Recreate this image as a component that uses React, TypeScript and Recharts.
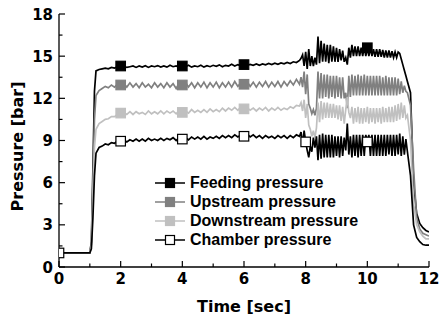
import React from 'react';
import { LineChart, Line, XAxis, YAxis, Legend } from 'recharts';

// time [sec]
const timeSec = [
  0, 0.5, 1.0, 1.05, 1.1, 1.15, 1.2, 1.3,
  1.4, 1.5, 1.6, 1.7, 1.8, 1.9, 2.0, 2.1, 2.2, 2.3,
  2.4, 2.5, 2.6, 2.7, 2.8, 2.9, 3.0, 3.1, 3.2, 3.3,
  3.4, 3.5, 3.6, 3.7, 3.8, 3.9, 4.0, 4.1, 4.2, 4.3,
  4.4, 4.5, 4.6, 4.7, 4.8, 4.9, 5.0, 5.1, 5.2, 5.3,
  5.4, 5.5, 5.6, 5.7, 5.8, 5.9, 6.0, 6.1, 6.2, 6.3,
  6.4, 6.5, 6.6, 6.7, 6.8, 6.9, 7.0, 7.1, 7.2, 7.3,
  7.4, 7.5, 7.6, 7.7, 7.8,
  7.85, 7.9, 7.95, 8.0, 8.05, 8.1, 8.15, 8.2, 8.25, 8.3,
  8.35, 8.4, 8.45, 8.5, 8.55, 8.6, 8.65, 8.7, 8.75, 8.8,
  8.85, 8.9, 8.95, 9.0, 9.05, 9.1, 9.15, 9.2, 9.25, 9.3,
  9.35, 9.4, 9.45, 9.5, 9.55, 9.6, 9.65, 9.7, 9.75, 9.8,
  9.85, 9.9, 9.95, 10.0, 10.05, 10.1, 10.15, 10.2, 10.25, 10.3,
  10.35, 10.4, 10.45, 10.5, 10.55, 10.6, 10.65, 10.7, 10.75, 10.8,
  10.85, 10.9, 10.95, 11.0, 11.05, 11.1, 11.15, 11.2, 11.25, 11.3,
  11.4, 11.5, 11.6, 11.7, 11.8, 11.9, 12.0,
];

const feedingPressure = [
  1.0, 1.0, 1.0, 1.8, 7.0, 12.5, 13.95, 14.05,
  14.1, 14.15, 14.1, 14.2, 14.15, 14.25, 14.3, 14.3, 14.2, 14.25,
  14.3, 14.2, 14.3, 14.22, 14.32, 14.2, 14.3, 14.25, 14.33, 14.22,
  14.3, 14.22, 14.35, 14.25, 14.3, 14.2, 14.3, 14.25, 14.35, 14.22,
  14.3, 14.25, 14.35, 14.22, 14.32, 14.25, 14.35, 14.28, 14.38, 14.25,
  14.35, 14.3, 14.42, 14.3, 14.4, 14.32, 14.4, 14.33, 14.42, 14.35,
  14.45, 14.35, 14.45, 14.38, 14.48, 14.4, 14.5, 14.42, 14.52, 14.45,
  14.55, 14.48, 14.6, 14.55, 14.7,
  14.85, 15.1, 14.3, 15.3, 14.1, 15.5, 14.3, 15.0, 14.3, 14.9,
  14.4, 16.4, 14.5, 16.1, 14.6, 15.9, 14.6, 15.8, 14.5, 15.8,
  14.6, 15.7, 14.6, 15.6, 14.6, 15.5, 14.7, 15.4, 14.6, 14.9,
  14.4, 15.6, 14.9, 15.8, 15.0, 15.7, 15.0, 15.7, 15.0, 15.6,
  15.0, 15.7, 15.0, 15.6, 15.0, 15.6, 15.0, 15.5, 14.95, 15.5,
  14.95, 15.5, 14.95, 15.45, 14.9, 15.4, 14.9, 15.4, 14.9, 15.35,
  14.9, 15.3, 14.9, 15.3, 15.2, 14.8, 14.4, 14.0, 13.6, 13.2,
  12.4, 6.0, 3.8, 3.1, 2.8, 2.6, 2.5,
];

const upstreamPressure = [
  1.0, 1.0, 1.0, 1.6, 6.0, 10.5, 12.2, 12.55,
  12.7, 12.85, 12.75, 12.95, 12.8, 13.0, 12.95, 13.05, 12.8, 13.1,
  12.8, 13.05, 12.75, 13.1, 12.8, 13.0, 12.75, 13.1, 12.8, 13.05,
  12.75, 13.1, 12.8, 13.05, 12.7, 13.1, 12.95, 13.15, 12.8, 13.1,
  12.75, 13.1, 12.8, 13.15, 12.75, 13.1, 12.8, 13.15, 12.75, 13.1,
  12.8, 13.15, 12.8, 13.2, 12.85, 13.1, 13.0, 13.2, 12.85, 13.15,
  12.8, 13.15, 12.85, 13.2, 12.8, 13.15, 12.85, 13.2, 12.8, 13.2,
  12.9, 13.25, 12.95, 13.35, 13.0,
  13.5, 12.8, 13.9, 12.3, 13.7, 11.6, 11.3, 10.9, 11.2, 10.8,
  11.3, 13.9, 12.0, 13.8, 12.0, 13.7, 12.1, 13.7, 12.0, 13.6,
  12.1, 13.6, 12.0, 13.6, 12.1, 13.5, 12.0, 13.5, 12.0, 12.4,
  11.3, 13.6, 12.1, 13.7, 12.2, 13.6, 12.2, 13.7, 12.2, 13.6,
  12.2, 13.7, 12.2, 13.6, 12.2, 13.6, 12.2, 13.6, 12.2, 13.6,
  12.2, 13.6, 12.2, 13.5, 12.2, 13.6, 12.2, 13.5, 12.2, 13.5,
  12.2, 13.5, 12.2, 13.4, 12.3, 13.2, 12.4, 12.9, 12.5, 12.4,
  11.5, 7.0, 3.5, 2.7, 2.4, 2.3, 2.2,
];

const downstreamPressure = [
  1.0, 1.0, 1.0, 1.5, 5.0, 8.5, 9.8, 10.2,
  10.35, 10.5, 10.55, 10.7, 10.7, 10.85, 10.95, 11.0, 10.85, 11.05,
  10.85, 11.05, 10.9, 11.0, 10.85, 11.1, 10.9, 11.05, 10.9, 11.1,
  10.9, 11.1, 10.95, 11.1, 10.9, 11.15, 11.0, 11.1, 10.95, 11.2,
  11.0, 11.15, 11.0, 11.2, 11.0, 11.25, 11.05, 11.2, 11.05, 11.3,
  11.1, 11.3, 11.15, 11.35, 11.15, 11.4, 11.25, 11.35, 11.15, 11.3,
  11.1, 11.3, 11.15, 11.35, 11.1, 11.3, 11.15, 11.35, 11.15, 11.3,
  11.2, 11.4, 11.3, 11.5, 11.45,
  11.7, 11.1, 11.9, 10.6, 11.6, 10.1, 9.8, 9.3, 9.7, 9.2,
  9.9, 11.7, 10.3, 11.8, 10.5, 11.7, 10.6, 11.7, 10.6, 11.6,
  10.6, 11.6, 10.6, 11.5, 10.5, 11.5, 10.4, 11.4, 10.2, 11.2,
  12.1, 11.0, 10.6, 11.4, 10.2, 11.3, 10.3, 11.4, 10.2, 11.3,
  10.2, 11.3, 10.3, 11.4, 10.2, 11.3, 10.3, 11.3, 10.2, 11.3,
  10.3, 11.3, 10.2, 11.4, 10.3, 11.3, 10.3, 11.4, 10.3, 11.4,
  10.3, 11.5, 10.4, 11.6, 10.5, 11.7, 10.6, 11.5, 10.6, 10.8,
  9.0, 4.5, 3.0, 2.5, 2.2, 2.0, 2.0,
];

const chamberPressure = [
  1.0, 1.0, 1.0, 1.3, 3.5, 6.5, 8.1, 8.5,
  8.6, 8.75, 8.7, 8.85, 8.8, 8.95, 8.95, 9.05, 8.9, 9.05,
  8.95, 9.1, 8.95, 9.1, 8.95, 9.15, 9.0, 9.1, 9.0, 9.15,
  9.0, 9.15, 9.05, 9.2, 9.0, 9.2, 9.1, 9.2, 9.05, 9.25,
  9.1, 9.25, 9.1, 9.3, 9.1, 9.25, 9.15, 9.3, 9.15, 9.35,
  9.2, 9.35, 9.2, 9.4, 9.25, 9.4, 9.3, 9.45, 9.25, 9.4,
  9.2, 9.35, 9.15, 9.35, 9.2, 9.3, 9.15, 9.35, 9.2, 9.35,
  9.15, 9.35, 9.2, 9.4, 9.3,
  9.6, 8.7, 9.7, 8.9, 8.3, 7.8, 8.6, 8.2, 9.2, 8.5,
  9.3, 7.6, 9.4, 7.7, 9.5, 7.8, 9.4, 7.8, 9.4, 7.8,
  9.4, 7.8, 9.3, 7.9, 9.3, 7.8, 9.3, 7.9, 9.2, 8.3,
  10.2, 8.0, 9.3, 7.8, 9.4, 7.9, 9.4, 7.8, 9.4, 7.9,
  9.4, 7.9, 9.4, 8.9, 9.4, 7.9, 9.4, 7.9, 9.4, 7.9,
  9.4, 7.9, 9.4, 7.9, 9.4, 7.9, 9.4, 8.0, 9.4, 7.9,
  9.4, 7.9, 9.4, 8.0, 9.5, 7.9, 9.3, 8.0, 9.1, 8.2,
  6.5, 3.0, 2.1, 1.8, 1.6, 1.55, 1.55,
];

// times where a visible symbol is drawn on each curve
const feedingMarkerTimes = [2, 4, 6, 10];
const upstreamMarkerTimes = [2, 4, 6];
const downstreamMarkerTimes = [2, 4, 6];
const chamberMarkerTimes = [0, 2, 4, 6, 8, 10];

const xTickValues = [0, 1, 2, 3, 4, 5, 6, 7, 8, 9, 10, 11, 12];
const xTickLabels = [0, 2, 4, 6, 8, 10, 12];
const yTickValues = [0, 1.5, 3, 4.5, 6, 7.5, 9, 10.5, 12, 13.5, 15, 16.5, 18];
const yTickLabels = [0, 3, 6, 9, 12, 15, 18];

const seriesNames = ['Feeding pressure', 'Upstream pressure', 'Downstream pressure', 'Chamber pressure'];

const SERIES = [
  { key: 'feeding', name: seriesNames[0], marks: feedingMarkerTimes, stroke: '#000000', fill: '#000000', markStroke: '#000000' },
  { key: 'upstream', name: seriesNames[1], marks: upstreamMarkerTimes, stroke: '#808080', fill: '#808080', markStroke: '#808080' },
  { key: 'downstream', name: seriesNames[2], marks: downstreamMarkerTimes, stroke: '#c0c0c0', fill: '#c0c0c0', markStroke: '#c0c0c0' },
  { key: 'chamber', name: seriesNames[3], marks: chamberMarkerTimes, stroke: '#000000', fill: '#ffffff', markStroke: '#000000' },
];

const chartData = timeSec.map((t, i) => ({
  t,
  feeding: feedingPressure[i],
  upstream: upstreamPressure[i],
  downstream: downstreamPressure[i],
  chamber: chamberPressure[i],
}));

const TICK_FONT = "'DejaVu Sans', sans-serif";
const LEGEND_FONT = "'Liberation Sans', Arial, sans-serif";
const isIn = (arr: number[], v: number) => arr.some((m) => Math.abs(m - v) < 1e-6);

const BottomTick = (props: any) => {
  const { x, y, payload } = props;
  const major = isIn(xTickLabels, payload.value);
  return (
    <g>
      <line x1={x} x2={x} y1={y} y2={y - (major ? 6 : 3.5)} stroke="#000" strokeWidth={1.2} />
      {major && (
        <text x={x} y={y + 17} textAnchor="middle" fontFamily={TICK_FONT} fontWeight="bold" fontSize={15} fill="#000">
          {payload.value}
        </text>
      )}
    </g>
  );
};

const TopTick = (props: any) => {
  const { x, y, payload } = props;
  const major = isIn(xTickLabels, payload.value);
  return <line x1={x} x2={x} y1={y} y2={y + (major ? 6 : 3.5)} stroke="#000" strokeWidth={1.2} />;
};

const LeftTick = (props: any) => {
  const { x, y, payload } = props;
  const major = isIn(yTickLabels, payload.value);
  return (
    <g>
      <line x1={x} x2={x + (major ? 6 : 3.5)} y1={y} y2={y} stroke="#000" strokeWidth={1.2} />
      {major && (
        <text x={x - 6} y={y + 5.5} textAnchor="end" fontFamily={TICK_FONT} fontWeight="bold" fontSize={15} fill="#000">
          {payload.value}
        </text>
      )}
    </g>
  );
};

const RightTick = (props: any) => {
  const { x, y, payload } = props;
  const major = isIn(yTickLabels, payload.value);
  return <line x1={x} x2={x - (major ? 6 : 3.5)} y1={y} y2={y} stroke="#000" strokeWidth={1.2} />;
};

const YTitle = (props: any) => {
  const vb = props.viewBox || { x: 0, y: 14, width: 59, height: 253 };
  const cx = vb.x + 23;
  const cy = vb.y + vb.height / 2 + 6;
  return (
    <text x={cx} y={cy} transform={`rotate(-90 ${cx} ${cy})`} textAnchor="middle" fontFamily={TICK_FONT} fontWeight="bold" fontSize={16} fill="#000">
      Pressure [bar]
    </text>
  );
};

const XTitle = (props: any) => {
  const vb = props.viewBox || { x: 59, y: 267, width: 370, height: 53 };
  const cx = vb.x + vb.width / 2;
  const cy = vb.y + vb.height - 8;
  return (
    <text x={cx} y={cy} textAnchor="middle" fontFamily={TICK_FONT} fontWeight="bold" fontSize={16} fill="#000">
      Time [sec]
    </text>
  );
};

const makeDot = (s: any) => (props: any) => {
  const { cx, cy, payload, index } = props;
  const k = `dot-${s.key}-${index}`;
  if (cx == null || cy == null || !payload || !isIn(s.marks, payload.t)) return <g key={k} />;
  const h = 4.75;
  return <rect key={k} x={cx - h} y={cy - h} width={2 * h} height={2 * h} fill={s.fill} stroke={s.markStroke} strokeWidth={1.2} />;
};

const LegendContent = () => (
  <div style={{ fontFamily: LEGEND_FONT, fontWeight: 'bold', fontSize: 16, color: '#000' }}>
    {SERIES.map((s) => (
      <div key={s.key} style={{ display: 'flex', alignItems: 'center', height: 19.2, whiteSpace: 'nowrap' }}>
        <svg width={32} height={12} style={{ display: 'block', marginRight: 3 }}>
          <line x1={0} x2={30} y1={6} y2={6} stroke={s.stroke} strokeWidth={1.5} />
          <rect x={10.5} y={1.5} width={9} height={9} fill={s.fill} stroke={s.markStroke} strokeWidth={1.2} />
        </svg>
        <span>{s.name}</span>
      </div>
    ))}
  </div>
);

export default function App() {
  return (
    <div style={{ position: 'absolute', left: 0, top: 0, width: 440, height: 320, background: '#fff' }}>
      <LineChart width={440} height={320} data={chartData} margin={{ top: 14, right: 11, bottom: 0, left: 0 }}>
        <XAxis
          dataKey="t"
          type="number"
          domain={[0, 12]}
          ticks={xTickValues}
          interval={0}
          height={53}
          tickSize={0}
          tickMargin={0}
          tickLine={false}
          tick={<BottomTick />}
          axisLine={{ stroke: '#000', strokeWidth: 1.3 }}
          allowDataOverflow
          label={<XTitle />}
        />
        <XAxis
          xAxisId="top"
          orientation="top"
          type="number"
          domain={[0, 12]}
          ticks={xTickValues}
          interval={0}
          height={0}
          tickSize={0}
          tickMargin={0}
          tickLine={false}
          tick={<TopTick />}
          axisLine={{ stroke: '#000', strokeWidth: 1.3 }}
          allowDataOverflow
        />
        <YAxis
          type="number"
          domain={[0, 18]}
          ticks={yTickValues}
          interval={0}
          width={59}
          tickSize={0}
          tickMargin={0}
          tickLine={false}
          tick={<LeftTick />}
          axisLine={{ stroke: '#000', strokeWidth: 1.3 }}
          allowDataOverflow
          label={<YTitle />}
        />
        <YAxis
          yAxisId="right"
          orientation="right"
          type="number"
          domain={[0, 18]}
          ticks={yTickValues}
          interval={0}
          width={0}
          tickSize={0}
          tickMargin={0}
          tickLine={false}
          tick={<RightTick />}
          axisLine={{ stroke: '#000', strokeWidth: 1.3 }}
          allowDataOverflow
        />
        <Legend
          layout="horizontal"
          verticalAlign="middle"
          align="center"
          content={<LegendContent />}
          wrapperStyle={{ position: 'absolute', left: 155, top: 173, width: 'auto', height: 'auto' }}
        />
        {SERIES.map((s) => (
          <Line
            key={s.key}
            type="linear"
            dataKey={s.key}
            name={s.name}
            stroke={s.stroke}
            strokeWidth={1.7}
            dot={makeDot(s)}
            activeDot={false}
            isAnimationActive={false}
          />
        ))}
      </LineChart>
    </div>
  );
}
